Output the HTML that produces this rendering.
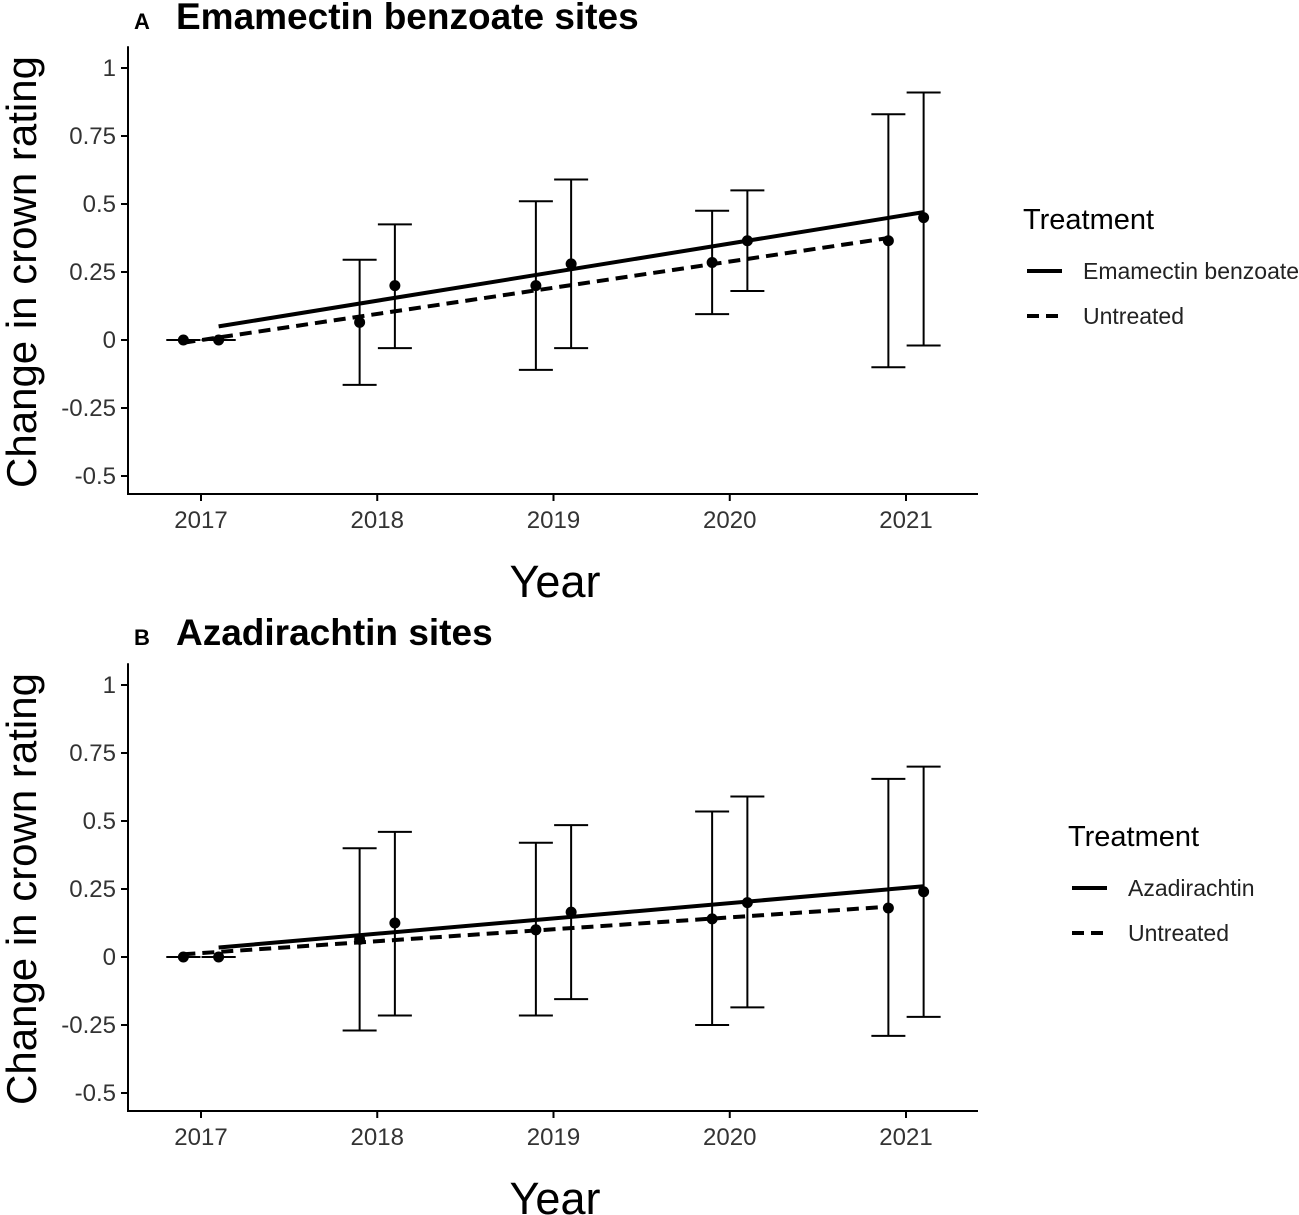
<!DOCTYPE html>
<html><head><meta charset="utf-8"><style>
body{margin:0;background:#fff;}
svg{display:block;font-family:"Liberation Sans",sans-serif;}
</style></head><body>
<svg id="chart" width="1299" height="1215" viewBox="0 0 1299 1215" xmlns="http://www.w3.org/2000/svg"></svg>
<script>
const years = [2017, 2018, 2019, 2020, 2021];
const yTicks = [-0.5, -0.25, 0, 0.25, 0.5, 0.75, 1];
const yTickLabels = ["-0.5", "-0.25", "0", "0.25", "0.5", "0.75", "1"];
// Panel A
const aUntreatedMean = [0, 0.065, 0.2, 0.285, 0.365];
const aUntreatedLow = [0, -0.165, -0.11, 0.095, -0.1];
const aUntreatedHigh = [0, 0.295, 0.51, 0.475, 0.83];
const aTreatedMean = [0, 0.2, 0.28, 0.365, 0.45];
const aTreatedLow = [0, -0.03, -0.03, 0.18, -0.02];
const aTreatedHigh = [0, 0.425, 0.59, 0.55, 0.91];
const aTreatedFit = [0.05, 0.47];
const aUntreatedFit = [-0.01, 0.375];
// Panel B
const bUntreatedMean = [0, 0.065, 0.1, 0.14, 0.18];
const bUntreatedLow = [0, -0.27, -0.215, -0.25, -0.29];
const bUntreatedHigh = [0, 0.4, 0.42, 0.535, 0.655];
const bTreatedMean = [0, 0.125, 0.165, 0.2, 0.24];
const bTreatedLow = [0, -0.215, -0.155, -0.185, -0.22];
const bTreatedHigh = [0, 0.46, 0.485, 0.59, 0.7];
const bTreatedFit = [0.035, 0.26];
const bUntreatedFit = [0.01, 0.185];

const svg = document.getElementById('chart');
const NS = 'http://www.w3.org/2000/svg';
function mk(tag, attrs, parent, text){
  const e = document.createElementNS(NS, tag);
  for (const k in attrs) e.setAttribute(k, attrs[k]);
  if (text !== undefined) e.textContent = text;
  parent.appendChild(e);
  return e;
}
const xScale = yr => 201 + (yr - 2017) * 176.25;

function panel(cfg){
  const g = mk('g', {}, svg);
  
  
  const y0 = cfg.zeroY;
  const yScale = v => y0 - v * 272;
  const ya = mk('line', {x1:128, x2:128, y1:yScale(1.08), y2:cfg.axisY, stroke:'#000', 'stroke-width':2}, g);
   
  const xa = mk('line', {x1:127, x2:978, y1:cfg.axisY, y2:cfg.axisY, stroke:'#000', 'stroke-width':2}, g);
   
  yTicks.forEach((t, i) => {
    const y = yScale(t);
    mk('line', {x1:121, x2:128, y1:y, y2:y, stroke:'#000', 'stroke-width':2}, g);
    const tl = mk('text', {x:116, y:y+8, 'text-anchor':'end', 'font-size':24, fill:'#333'}, g, yTickLabels[i]);
     
  });
  years.forEach(yr => {
    const x = xScale(yr);
    mk('line', {x1:x, x2:x, y1:cfg.axisY, y2:cfg.axisY+7, stroke:'#000', 'stroke-width':2}, g);
    const tl = mk('text', {x:x, y:cfg.axisY+34, 'text-anchor':'middle', 'font-size':24, fill:'#333'}, g, String(yr));
     
  });
  const yt = mk('text', {x:0, y:0, transform:`translate(36,${yScale(0.25)}) rotate(-90)`, 'text-anchor':'middle', 'font-size':42}, g, 'Change in crown rating');
   
  const xt = mk('text', {x:555, y:cfg.axisY+103, 'text-anchor':'middle', 'font-size':45}, g, 'Year');
   
  const pl = mk('text', {x:134, y:cfg.titleY, 'font-size':22, 'font-weight':'bold'}, g, cfg.letter);
   
  const pt = mk('text', {x:176, y:cfg.titleY, 'font-size':37, 'font-weight':'bold'}, g, cfg.title);
   

  const sl = mk('line', {x1:xScale(2017.1), x2:xScale(2021.1), y1:yScale(cfg.tFit[0]), y2:yScale(cfg.tFit[1]), stroke:'#000', 'stroke-width':4}, g);
   
  const dl = mk('line', {x1:xScale(2016.9), x2:xScale(2020.9), y1:yScale(cfg.uFit[0]), y2:yScale(cfg.uFit[1]), stroke:'#000', 'stroke-width':4, 'stroke-dasharray':'12,7'}, g);
   

  const series = [
    {off:-0.1, m:cfg.uM, lo:cfg.uL, hi:cfg.uH, n:'untreated'},
    {off:0.1, m:cfg.tM, lo:cfg.tL, hi:cfg.tH, n:'treated'}
  ];
  series.forEach(s => {
    years.forEach((yr, i) => {
      const x = xScale(yr + s.off);
      const eb = mk('g', {stroke:'#000', 'stroke-width':2}, g);
       
      mk('line', {x1:x, x2:x, y1:yScale(s.lo[i]), y2:yScale(s.hi[i])}, eb);
      mk('line', {x1:x-17, x2:x+17, y1:yScale(s.lo[i]), y2:yScale(s.lo[i])}, eb);
      mk('line', {x1:x-17, x2:x+17, y1:yScale(s.hi[i]), y2:yScale(s.hi[i])}, eb);
      const p = mk('circle', {cx:x, cy:yScale(s.m[i]), r:5.5, fill:'#000'}, g);
       
    });
  });

  const lg = mk('g', {}, g);
   
  const lx = cfg.legX;
  mk('text', {x:lx, y:cfg.legY, 'font-size':29}, lg, 'Treatment');
  const e1 = mk('g', {}, lg);
   
  mk('line', {x1:lx+4, x2:lx+39, y1:cfg.legY+42, y2:cfg.legY+42, stroke:'#000', 'stroke-width':4}, e1);
  mk('text', {x:lx+60, y:cfg.legY+50, 'font-size':23, fill:'#222'}, e1, cfg.tName);
  const e2 = mk('g', {}, lg);
   
  mk('line', {x1:lx+4, x2:lx+39, y1:cfg.legY+87, y2:cfg.legY+87, stroke:'#000', 'stroke-width':4, 'stroke-dasharray':'12,7'}, e2);
  mk('text', {x:lx+60, y:cfg.legY+95, 'font-size':23, fill:'#222'}, e2, 'Untreated');
}

panel({name:'panel-a', zeroY:340, axisY:494, titleY:29, letter:'A', title:'Emamectin benzoate sites',
  uM:aUntreatedMean, uL:aUntreatedLow, uH:aUntreatedHigh, tM:aTreatedMean, tL:aTreatedLow, tH:aTreatedHigh,
  tFit:aTreatedFit, uFit:aUntreatedFit, legX:1023, legY:229, tName:'Emamectin benzoate'});
panel({name:'panel-b', zeroY:957, axisY:1111, titleY:645, letter:'B', title:'Azadirachtin sites',
  uM:bUntreatedMean, uL:bUntreatedLow, uH:bUntreatedHigh, tM:bTreatedMean, tL:bTreatedLow, tH:bTreatedHigh,
  tFit:bTreatedFit, uFit:bUntreatedFit, legX:1068, legY:846, tName:'Azadirachtin'});
</script>
</body></html>
